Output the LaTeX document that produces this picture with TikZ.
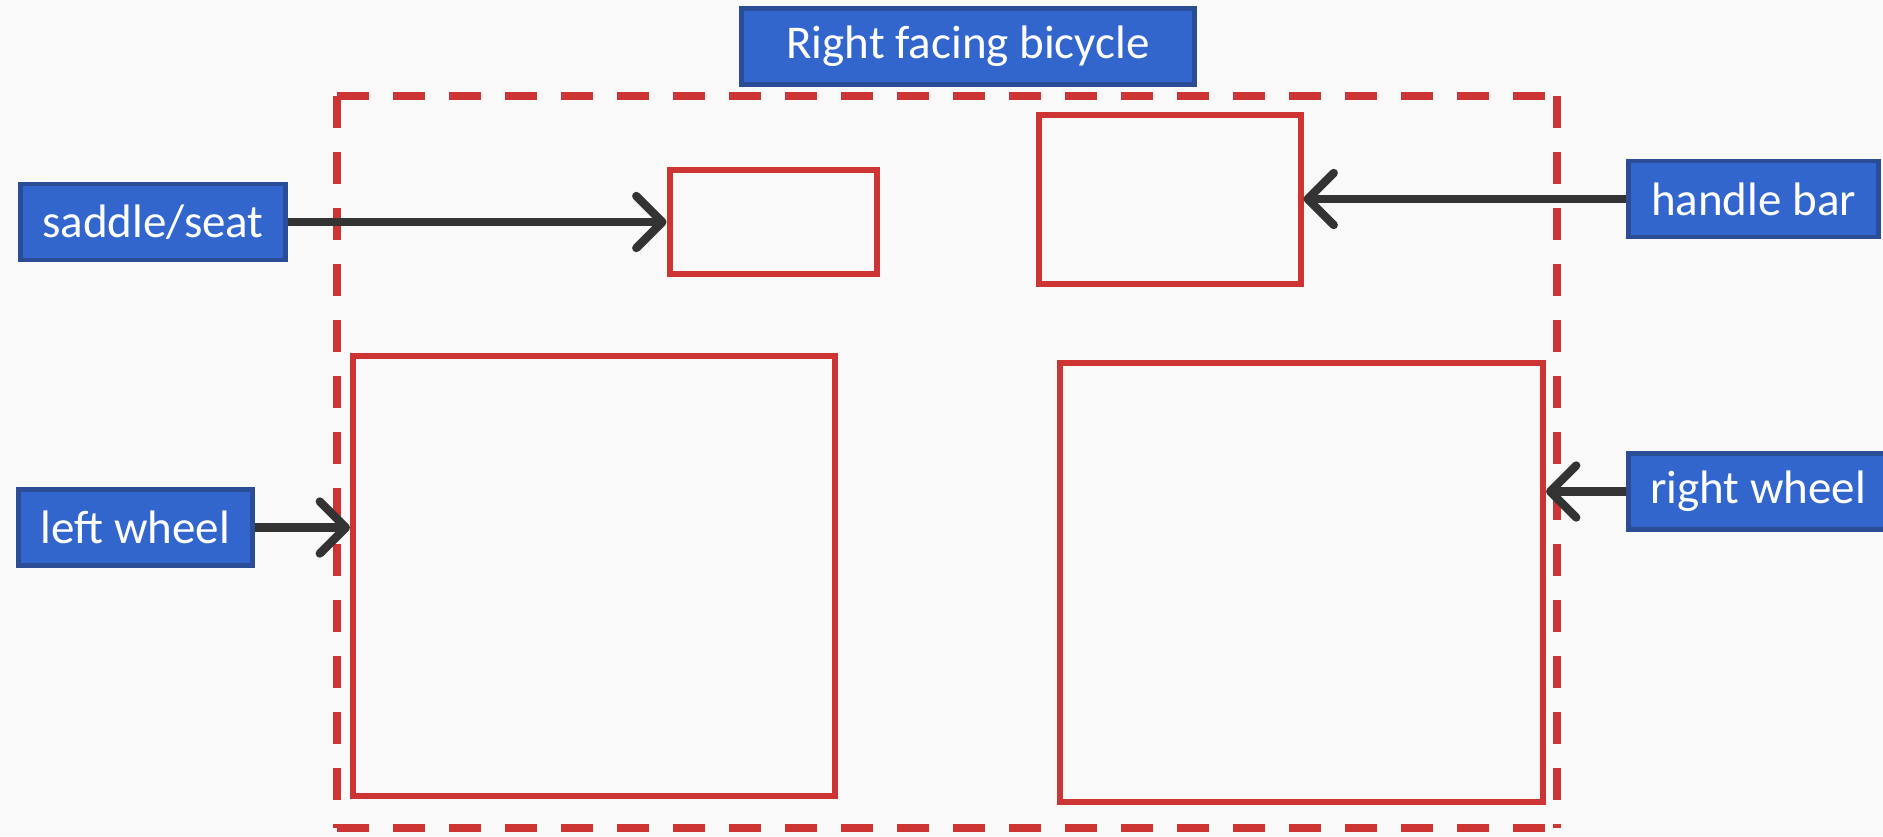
\documentclass[tikz,border=0pt]{standalone}
\usepackage{fontspec}
\setmainfont{Carlito}
\usetikzlibrary{arrows.meta}
\definecolor{bg}{HTML}{F9F9F9}
\definecolor{boxblue}{HTML}{3366CC}
\definecolor{boxedge}{HTML}{2A4D96}
\definecolor{partred}{HTML}{CD3434}
\definecolor{arrowgray}{HTML}{333333}
\tikzset{
  label box/.style={rectangle, draw=boxedge, fill=boxblue, line width=2.2pt,
    text=white, inner sep=0pt, font=\fontsize{23.5}{27}\selectfont,
    minimum height=38pt},
  part box/.style={rectangle, draw=partred, line width=3pt, inner sep=0pt},
  frame line/.style={draw=partred, line width=4.3pt, dash pattern=on 16pt off 12pt},
  pointer/.style={draw=arrowgray, line width=4.2pt,
    -{Straight Barb[length=13pt, width=26pt, line cap=round, round]}},
}
\begin{document}
\begin{tikzpicture}[x=0.5pt, y=-0.5pt]
  \clip (0,0) rectangle (1883,836);
  \fill[bg] (0,0) rectangle (1883,836);
  \useasboundingbox (0,0) rectangle (1883,836);

  % dashed outline of the bicycle
  \coordinate (tl) at (337,96);
  \coordinate (tr) at (1557,96);
  \coordinate (bl) at (337,828);
  \coordinate (br) at (1557,828);
  \draw[frame line] (tl) -- (tr);
  \draw[frame line] (tl) -- (bl);
  \draw[frame line] (tr) -- (br);
  \draw[frame line] (bl) -- (br);

  % parts
  \node[part box, minimum width=103.5pt, minimum height=52pt] (seat) at (773,221.5) {};
  \node[part box, minimum width=131pt, minimum height=84.5pt] (handle) at (1169.5,199) {};
  \node[part box, minimum width=241pt, minimum height=220pt] (lwheel) at (594,576) {};
  \node[part box, minimum width=241.5pt, minimum height=219.5pt] (rwheel) at (1301.5,582.5) {};

  % labels
  \node[label box, minimum width=226.5pt] (title) at (968,46.5) {Right facing bicycle};
  \node[label box, minimum width=132.5pt] (saddle) at (153,222) {saddle/seat};
  \node[label box, minimum width=125pt] (handlebar) at (1753.5,199) {handle bar};
  \node[label box, minimum width=117pt] (leftw) at (135.5,527.5) {left wheel};
  \node[label box, minimum width=129.5pt] (rightw) at (1758,491.5) {right wheel};

  % pointers
  \draw[pointer] (saddle.east) -- (saddle.east -| seat.west);
  \draw[pointer] (handlebar.west) -- (handlebar.west -| handle.east);
  \draw[pointer] (leftw.east) -- (leftw.east -| lwheel.west);
  \draw[pointer] (rightw.west) -- (rightw.west -| rwheel.east);
\end{tikzpicture}
\end{document}
